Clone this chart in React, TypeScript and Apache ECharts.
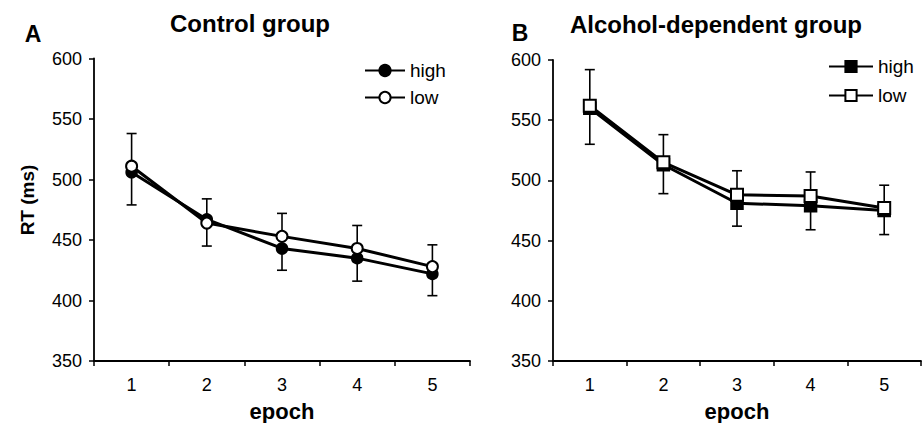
import React, { useEffect, useRef } from "react";
import * as echarts from "echarts";

const epochs = ["1", "2", "3", "4", "5"];
const yTicks = { min: 350, max: 600, interval: 50 };

// Control group
const ctrlHigh = [506, 467, 443, 435, 422];
const ctrlHighErrMinus = [27, 22, 18, 19, 18];
const ctrlLow = [511, 464, 453, 443, 428];
const ctrlLowErrPlus = [27, 20, 19, 19, 18];

// Alcohol-dependent group
const alcHigh = [560, 513, 481, 479, 475];
const alcHighErrMinus = [30, 24, 19, 20, 20];
const alcLow = [562, 515, 488, 487, 477];
const alcLowErrPlus = [30, 23, 20, 20, 19];

const FONT = "'Liberation Sans', Arial, sans-serif";

function errSeries(name: string, idx: number, vals: number[], errs: number[], dir: number) {
  return {
    name,
    type: "custom",
    xAxisIndex: idx,
    yAxisIndex: idx,
    z: 1,
    silent: true,
    data: vals.map((v, i) => [i, v, errs[i]]),
    renderItem: (params: any, api: any) => {
      const x = api.value(0);
      const v = api.value(1);
      const e = api.value(2);
      const p0 = api.coord([x, v]);
      const p1 = api.coord([x, v + dir * e]);
      const cap = 5;
      const style = { stroke: "#000", lineWidth: 1.6 };
      return {
        type: "group",
        children: [
          { type: "line", shape: { x1: p0[0], y1: p0[1], x2: p1[0], y2: p1[1] }, style },
          { type: "line", shape: { x1: p1[0] - cap, y1: p1[1], x2: p1[0] + cap, y2: p1[1] }, style },
        ],
      };
    },
  };
}

function lineSeries(name: string, idx: number, vals: number[], symbol: string, filled: boolean, size: number) {
  return {
    name,
    type: "line",
    xAxisIndex: idx,
    yAxisIndex: idx,
    z: 3,
    data: vals,
    symbol,
    symbolSize: size,
    showSymbol: true,
    lineStyle: { color: "#000", width: 3 },
    itemStyle: filled
      ? { color: "#000", borderColor: "#000", borderWidth: 1.5 }
      : { color: "#fff", borderColor: "#000", borderWidth: 2 },
  };
}

function xAxis(idx: number) {
  return {
    type: "category",
    gridIndex: idx,
    data: epochs,
    boundaryGap: true,
    axisLine: { show: true, lineStyle: { color: "#000", width: 1.8 } },
    axisTick: { show: true, length: 5, lineStyle: { color: "#000", width: 1.5 } },
    axisLabel: { color: "#000", fontSize: 18, fontFamily: FONT, margin: 15 },
    name: "epoch",
    nameLocation: "middle",
    nameGap: 39,
    nameTextStyle: { color: "#000", fontSize: 22, fontWeight: "bold", fontFamily: FONT },
    splitLine: { show: false },
  };
}

function yAxis(idx: number) {
  return {
    type: "value",
    gridIndex: idx,
    min: yTicks.min,
    max: yTicks.max,
    interval: yTicks.interval,
    axisLine: { show: true, lineStyle: { color: "#000", width: 1.8 } },
    axisTick: { show: true, length: 5, lineStyle: { color: "#000", width: 1.5 } },
    axisLabel: { color: "#000", fontSize: 18, fontFamily: FONT, margin: 12 },
    splitLine: { show: false },
  };
}

export default function App() {
  const ref = useRef<HTMLDivElement>(null);
  useEffect(() => {
    if (!ref.current) return;
    const chart = echarts.init(ref.current, null, { renderer: "svg" });
    const legendText = { color: "#000", fontSize: 19, fontFamily: FONT };
    chart.setOption({
      animation: false,
      backgroundColor: "#fff",
      grid: [
        { left: 94, top: 58.5, width: 376, height: 302.5, outerBoundsMode: "none", containLabel: false },
        { left: 553, top: 60, width: 368, height: 301, outerBoundsMode: "none", containLabel: false },
      ],
      xAxis: [xAxis(0), xAxis(1)],
      yAxis: [yAxis(0), yAxis(1)],
      legend: [
        {
          data: ["high", "low"],
          left: 359,
          top: 56,
          orient: "vertical",
          itemWidth: 40,
          itemHeight: 14,
          itemGap: 8,
          textStyle: legendText,
          formatter: (n: string) => n,
        },
        {
          data: ["high_B", "low_B"],
          left: 823,
          top: 52,
          orient: "vertical",
          itemWidth: 44,
          itemHeight: 14,
          itemGap: 10,
          textStyle: legendText,
          formatter: (n: string) => n.replace("_B", ""),
        },
      ],
      graphic: [
        { type: "text", x: 250, y: 23, style: { text: "Control group", align: "center", verticalAlign: "middle", font: `bold 24px ${FONT}`, fill: "#000" } },
        { type: "text", x: 716, y: 24, style: { text: "Alcohol-dependent group", align: "center", verticalAlign: "middle", font: `bold 24px ${FONT}`, fill: "#000" } },
        { type: "text", x: 33, y: 34, style: { text: "A", align: "center", verticalAlign: "middle", font: `bold 23px ${FONT}`, fill: "#000" } },
        { type: "text", x: 520, y: 33, style: { text: "B", align: "center", verticalAlign: "middle", font: `bold 23px ${FONT}`, fill: "#000" } },
        { type: "text", x: 27, y: 200, rotation: Math.PI / 2, style: { text: "RT (ms)", align: "center", verticalAlign: "middle", font: `bold 19px ${FONT}`, fill: "#000" } },
      ],
      series: [
        errSeries("errHighA", 0, ctrlHigh, ctrlHighErrMinus, -1),
        errSeries("errLowA", 0, ctrlLow, ctrlLowErrPlus, 1),
        errSeries("errHighB", 1, alcHigh, alcHighErrMinus, -1),
        errSeries("errLowB", 1, alcLow, alcLowErrPlus, 1),
        lineSeries("high", 0, ctrlHigh, "circle", true, 11),
        lineSeries("low", 0, ctrlLow, "circle", false, 11),
        lineSeries("high_B", 1, alcHigh, "rect", true, 12),
        lineSeries("low_B", 1, alcLow, "rect", false, 12),
      ],
    });
    return () => chart.dispose();
  }, []);
  return <div ref={ref} style={{ width: 924, height: 423, position: "absolute", left: 0, top: 0 }} />;
}
